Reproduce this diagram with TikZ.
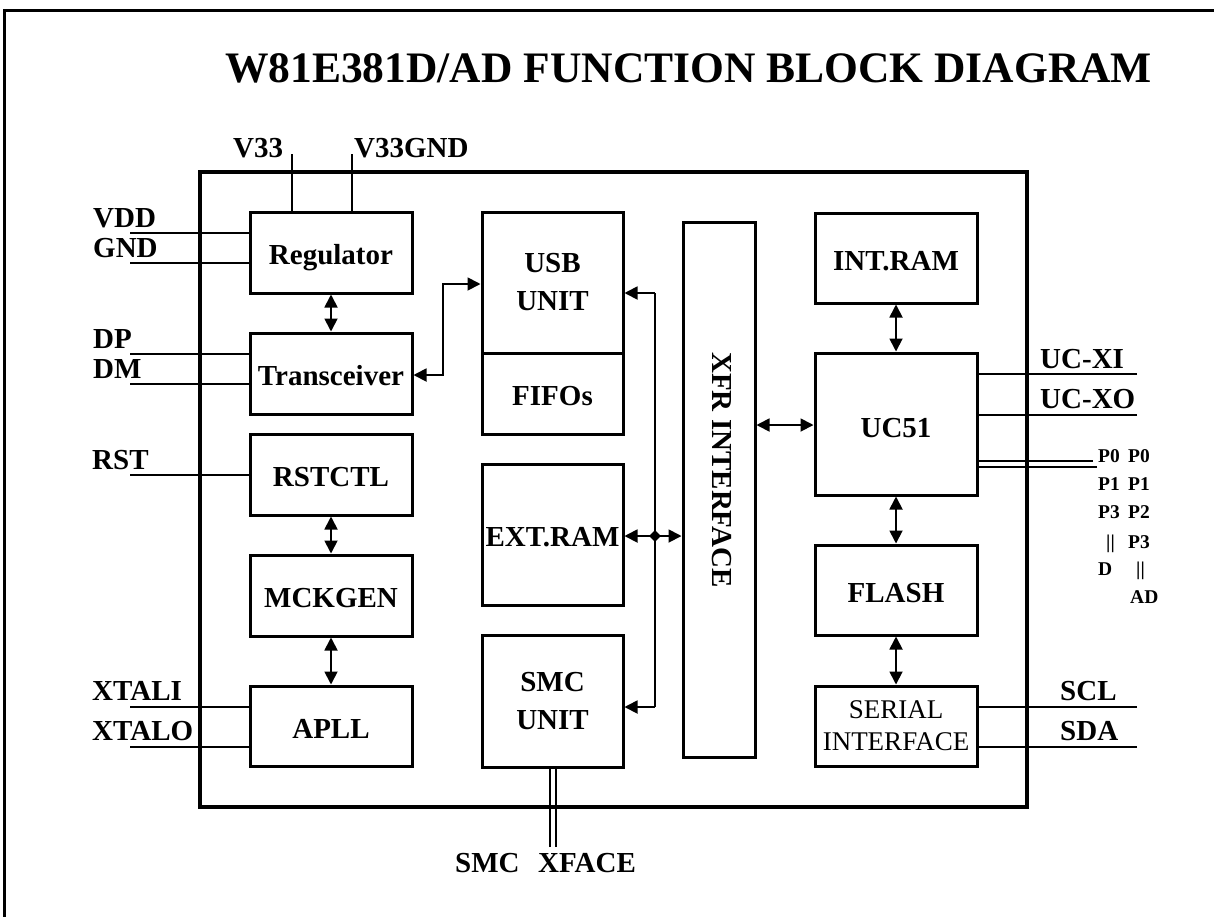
\documentclass[tikz,border=0pt]{standalone}
\usepackage{fontspec}
\setmainfont{Liberation Serif}
\usetikzlibrary{arrows.meta,shapes.geometric}
\newcommand\blkfont{\fontsize{29}{38}\selectfont\bfseries}
\newcommand\serfont{\fontsize{27}{32}\selectfont}
\newcommand\pfont{\fontsize{19.5}{24}\selectfont\bfseries}
\newcommand\ttlfont{\fontsize{43.5}{48}\selectfont\bfseries}
\begin{document}
\begin{tikzpicture}[x=1pt,y=-1pt,
  box/.style={draw, line width=3pt, inner sep=0pt, font=\blkfont, text height=24pt, text depth=0pt},
  boxtwo/.style={draw, line width=3pt, inner sep=0pt, font=\blkfont, align=center},
  lab/.style={font=\blkfont, anchor=base west, inner sep=0pt},
  plab/.style={font=\pfont, anchor=base west, inner sep=0pt},
  lead/.style={line width=1.8pt},
  bus/.style={line width=2.5pt},
  tip/.tip={Triangle[length=13pt,width=13pt]},
  bi/.style={line width=1.8pt, tip-tip},
  uni/.style={line width=1.8pt, -tip}
]
\useasboundingbox (0,0) rectangle (1214,916);
\draw[line width=3pt] (4,940) -- (4,10) -- (1240,10);

\node[font=\ttlfont, anchor=base west, inner sep=0pt] (title) at (225,82) {W81E381D/AD FUNCTION BLOCK DIAGRAM};

% chip outline
\node[draw, line width=3.5pt, minimum width=827pt, minimum height=635pt, inner sep=0pt] (chip) at (613.5,489.5) {};

% left column
\node[box, minimum width=162pt, minimum height=81pt] (reg) at (331,252.5) {Regulator};
\node[box, minimum width=162pt, minimum height=81pt] (trans) at (331,373.5) {Transceiver};
\node[box, minimum width=162pt, minimum height=81pt] (rstc) at (331,474.5) {RSTCTL};
\node[box, minimum width=162pt, minimum height=81pt] (mck) at (331,595.5) {MCKGEN};
\node[box, minimum width=162pt, minimum height=80pt] (apll) at (331,726) {APLL};

% middle column
\node[boxtwo, minimum width=141pt, minimum height=141pt] (usb) at (552.5,282.5) {USB\\UNIT};
\node[box, minimum width=141pt, minimum height=81pt] (fifo) at (552.5,393.5) {FIFOs};
\node[box, minimum width=141pt, minimum height=141pt] (ext) at (552.5,534.5) {EXT.RAM};
\node[boxtwo, minimum width=141pt, minimum height=132pt] (smc) at (552.5,701) {SMC\\UNIT};

% XFR interface
\node[draw, line width=3pt, minimum width=72pt, minimum height=535pt, inner sep=0pt] (xfr) at (719,489.5) {};
\node[font=\blkfont, rotate=-90, inner sep=0pt] (xfrtext) at (722,470) {XFR INTERFACE};

% right column
\node[box, minimum width=162pt, minimum height=90pt] (intram) at (896,258) {INT.RAM};
\node[box, minimum width=162pt, minimum height=142pt, text height=26pt] (uc51) at (896,424) {UC51};
\node[box, minimum width=162pt, minimum height=90pt] (flash) at (896,590) {FLASH};
\node[draw, line width=3pt, inner sep=0pt, font=\serfont, align=center, minimum width=162pt, minimum height=80pt] (serial) at (896,726) {SERIAL\\INTERFACE};

% outside labels
\node[lab] (lv33) at (233,157) {V33};
\node[lab] (lv33g) at (354,157) {V33GND};
\node[lab] (lvdd) at (93,227) {VDD};
\node[lab] (lgnd) at (93,257) {GND};
\node[lab] (ldp) at (93,348) {DP};
\node[lab] (ldm) at (93,378) {DM};
\node[lab] (lrst) at (92,469) {RST};
\node[lab] (lxi) at (92,700) {XTALI};
\node[lab] (lxo) at (92,740) {XTALO};
\node[lab] (lucxi) at (1040,368) {UC-XI};
\node[lab] (lucxo) at (1040,408) {UC-XO};
\node[lab] (lscl) at (1060,700) {SCL};
\node[lab] (lsda) at (1060,740) {SDA};
\node[lab] (lsmc) at (455,872) {SMC};
\node[lab] (lxface) at (538,872) {XFACE};

% port labels
\node[plab] (pa1) at (1098,462) {P0};
\node[plab] (pa2) at (1098,490) {P1};
\node[plab] (pa3) at (1098,518) {P3};
\node[plab] (pa4) at (1106,548) {||};
\node[plab] (pa5) at (1098,575) {D};
\node[plab] (pb1) at (1128,462) {P0};
\node[plab] (pb2) at (1128,490) {P1};
\node[plab] (pb3) at (1128,518) {P2};
\node[plab] (pb4) at (1128,548) {P3};
\node[plab] (pb5) at (1136,575) {||};
\node[plab] (pb6) at (1130,603) {AD};

% leads
\coordinate (v33) at (292,154);
\coordinate (v33g) at (352,154);
\draw[lead] (v33) -- (v33 |- reg.north);
\draw[lead] (v33g) -- (v33g |- reg.north);
\coordinate (vdd) at (130,233);
\coordinate (gnd) at (130,263);
\draw[lead] (vdd) -- (vdd -| reg.west);
\draw[lead] (gnd) -- (gnd -| reg.west);
\coordinate (dp) at (130,354);
\coordinate (dm) at (130,384);
\draw[lead] (dp) -- (dp -| trans.west);
\draw[lead] (dm) -- (dm -| trans.west);
\coordinate (rst) at (130,475);
\draw[lead] (rst) -- (rst -| rstc.west);
\coordinate (xi) at (130,707);
\coordinate (xo) at (130,747);
\draw[lead] (xi) -- (xi -| apll.west);
\draw[lead] (xo) -- (xo -| apll.west);
\coordinate (ucxi) at (1137,374);
\coordinate (ucxo) at (1137,415);
\draw[lead] (ucxi) -- (ucxi -| uc51.east);
\draw[lead] (ucxo) -- (ucxo -| uc51.east);
\coordinate (scl) at (1137,707);
\coordinate (sda) at (1137,747);
\draw[lead] (scl) -- (scl -| serial.east);
\draw[lead] (sda) -- (sda -| serial.east);
\coordinate (pbusa) at (1093,461);
\coordinate (pbusb) at (1097,467);
\draw[bus] (pbusa) -- (pbusa -| uc51.east);
\draw[bus] (pbusb) -- (pbusb -| uc51.east);
\coordinate (smca) at (550,847);
\coordinate (smcb) at (556,847);
\draw[line width=2.2pt] (smca) -- (smca |- smc.south);
\draw[line width=2.2pt] (smcb) -- (smcb |- smc.south);

% vertical arrows
\draw[bi] (reg.south) -- (trans.north);
\draw[bi] (rstc.south) -- (mck.north);
\draw[bi] (mck.south) -- (apll.north);
\draw[bi] (intram.south) -- (uc51.north);
\draw[bi] (uc51.south) -- (flash.north);
\draw[bi] (flash.south) -- (serial.north);

% transceiver - USB
\coordinate (tu1) at (443,375);
\coordinate (tu2) at (443,284);
\draw[bi] (tu1 -| trans.east) -- (tu1) -- (tu2) -- (tu2 -| usb.west);

% internal bus
\coordinate (busT) at (655,293);
\coordinate (busB) at (655,707);
\draw[uni] (busT) -- (busT -| usb.east);
\draw[lead] (busT) -- (busB);
\draw[uni] (busB) -- (busB -| smc.east);
\draw[bi] (ext.east |- 0,536) -- (xfr.west |- 0,536);
\node[diamond, fill, inner sep=0pt, minimum size=12pt] (junc) at (655,536) {};

% XFR - UC51
\draw[bi] (xfr.east |- 0,425) -- (uc51.west |- 0,425);
\end{tikzpicture}
\end{document}
